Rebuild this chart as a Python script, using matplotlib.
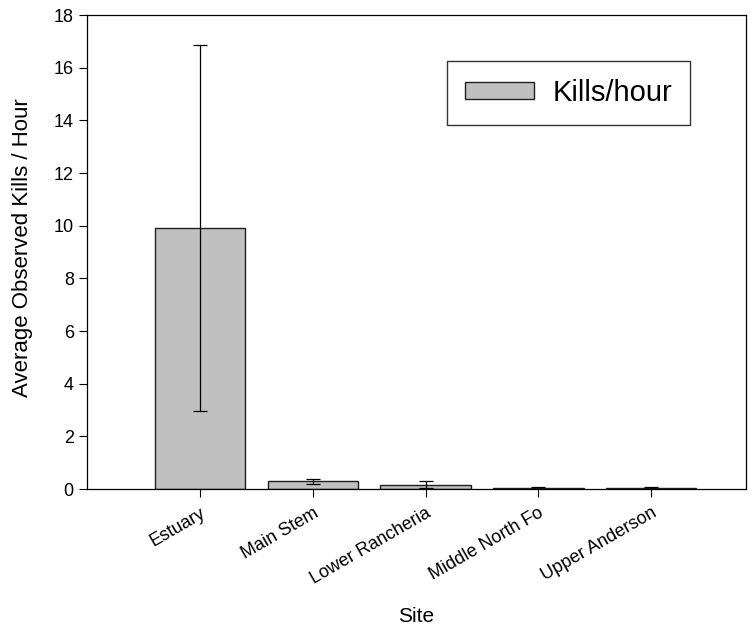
import matplotlib
matplotlib.use("Agg")
import matplotlib.pyplot as plt
import numpy as np

plt.rcParams["font.family"] = ["Liberation Sans", "DejaVu Sans"]

sites = ["Estuary", "Main Stem", "Lower Rancheria", "Middle North Fo", "Upper Anderson"]
kills_per_hour = [9.9, 0.29, 0.17, 0.03, 0.03]
kills_err = [6.95, 0.085, 0.115, 0.03, 0.035]

fig = plt.figure(figsize=(7.53, 6.29), dpi=100)
ax = fig.add_axes([87 / 753, 1 - 489 / 629, (746 - 87) / 753, (489 - 15) / 629])

x = np.arange(len(sites))
ax.bar(x, kills_per_hour, width=0.8, color="#c0c0c0", edgecolor="#202020",
       linewidth=1.0, label="Kills/hour", zorder=2)
ax.errorbar(x, kills_per_hour, yerr=kills_err, fmt="none", ecolor="black",
            elinewidth=0.9, capsize=5, capthick=0.9, zorder=3)

ax.set_xlim(-1.0, 4.84)
ax.set_ylim(0, 18)
ax.set_yticks(np.arange(0, 19, 2))
ax.set_xticks(x)
ax.set_xticklabels(sites, rotation=30, ha="right", rotation_mode="anchor")
ax.tick_params(axis="both", direction="out", length=6, width=0.8, labelsize=13)
ax.tick_params(axis="x", pad=5)

for s in ax.spines.values():
    s.set_linewidth(0.9)

ax.set_ylabel("Average Observed Kills / Hour", fontsize=16)
ax.yaxis.set_label_coords(-0.082, 0.51)
ax.set_xlabel("Site", fontsize=15, labelpad=14)

leg = ax.legend(loc="upper left", bbox_to_anchor=((447 - 87) / 659, 1 - (61 - 15) / 474),
                fontsize=21, frameon=True, fancybox=False, handlelength=2.35,
                handleheight=0.5, borderpad=0.62, handletextpad=0.65, borderaxespad=0)
leg.get_frame().set_edgecolor("black")
leg.get_frame().set_linewidth(1.0)

fig.savefig("out.png", dpi=100)
